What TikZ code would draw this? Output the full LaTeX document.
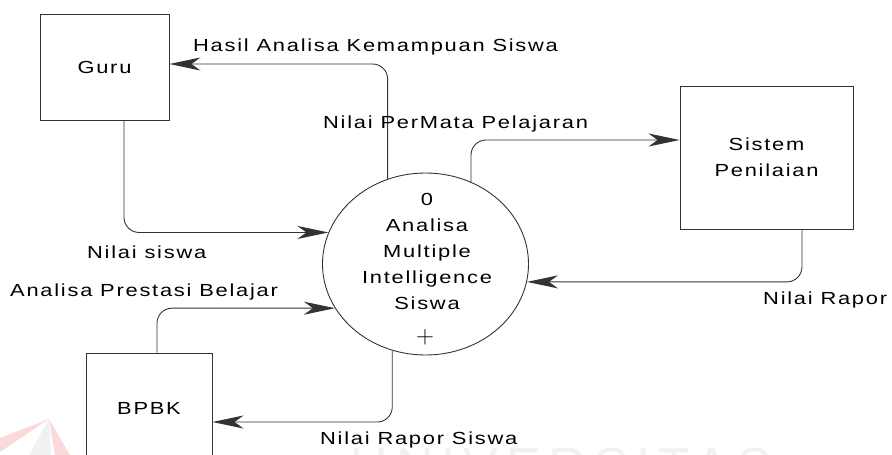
\documentclass[tikz,border=0pt]{standalone}
\usepackage{fontspec}
\setmainfont{Liberation Sans}[FakeStretch=1.25,LetterSpace=10]
\newfontfamily\wmfont{Liberation Sans}[LetterSpace=15]
\usetikzlibrary{arrows.meta,shapes.geometric}

\definecolor{linec}{HTML}{333333}
\definecolor{wmpink}{HTML}{FADADA}
\definecolor{wmgray}{HTML}{F1F1F1}

\begin{document}
\begin{tikzpicture}[x=1pt,y=-1pt,
  font=\fontsize{17.5}{26}\selectfont,
  entity/.style={draw=linec, line width=0.9pt, inner sep=0pt},
  process/.style={draw=linec, line width=0.9pt, ellipse, inner sep=0pt},
  flow/.style={draw=linec, line width=0.9pt, rounded corners=15,
    -{Stealth[length=31pt,width=13pt,inset=9pt]}},
  flowlabel/.style={anchor=west, inner sep=0pt}]

% page frame
\useasboundingbox (0,0) rectangle (892,455);
\clip (0,0) rectangle (892,455);

% faint background mark
\fill[wmpink] (0,438) -- (49,419) -- (0,452) -- cycle;
\fill[wmpink] (49,419) -- (55,455) -- (70,455) -- cycle;
\fill[wmgray] (49,419) -- (29,455) -- (51,455) -- cycle;
\node[anchor=north east, inner sep=0pt, text=wmgray,
  font=\wmfont\fontsize{52}{52}\selectfont] (mark) at (772,448) {UNIVERSITAS};

% external entities
\node[entity, minimum width=129, minimum height=106] (guru) at (104.5,67) {Guru};
\node[entity, minimum width=173, minimum height=143, align=center] (sistem) at (766.5,157.5) {Sistem\\Penilaian};
\node[entity, minimum width=126, minimum height=110] (bpbk) at (149,408) {BPBK};

% process
\node[process, minimum width=206, minimum height=182] (proc) at (425.5,264) {};
\node[align=center, inner sep=0pt] (proctext) at (427,251.5) {0\\Analisa\\Multiple\\Intelligence\\Siswa};
\node[inner sep=0pt, font=\fontsize{26}{26}\selectfont] (procplus) at (425,337) {$+$};

% data flows
\draw[flow] (proc.114.5) |- ([yshift=3]guru.east);
\draw[flow] (proc.61.5) |- ([yshift=17.5]sistem.west);
\draw[flow] ([xshift=19.5]guru.south) |- (proc.162.2);
\draw[flow] ([xshift=8]bpbk.north) |- (proc.206.7);
\draw[flow] ([xshift=35.5]sistem.south) |- (proc.-10.7);
\draw[flow] (proc.249.3) |- ([yshift=-14]bpbk.east);

% flow labels
\node[flowlabel] (l1) at (193,47) {Hasil Analisa Kemampuan Siswa};
\node[flowlabel] (l2) at (323,124) {Nilai PerMata Pelajaran};
\node[flowlabel] (l3) at (87,252) {Nilai siswa};
\node[flowlabel] (l4) at (10,292) {Analisa Prestasi Belajar};
\node[flowlabel] (l5) at (763,300) {Nilai Rapor};
\node[flowlabel] (l6) at (320,440) {Nilai Rapor Siswa};
\end{tikzpicture}
\end{document}
